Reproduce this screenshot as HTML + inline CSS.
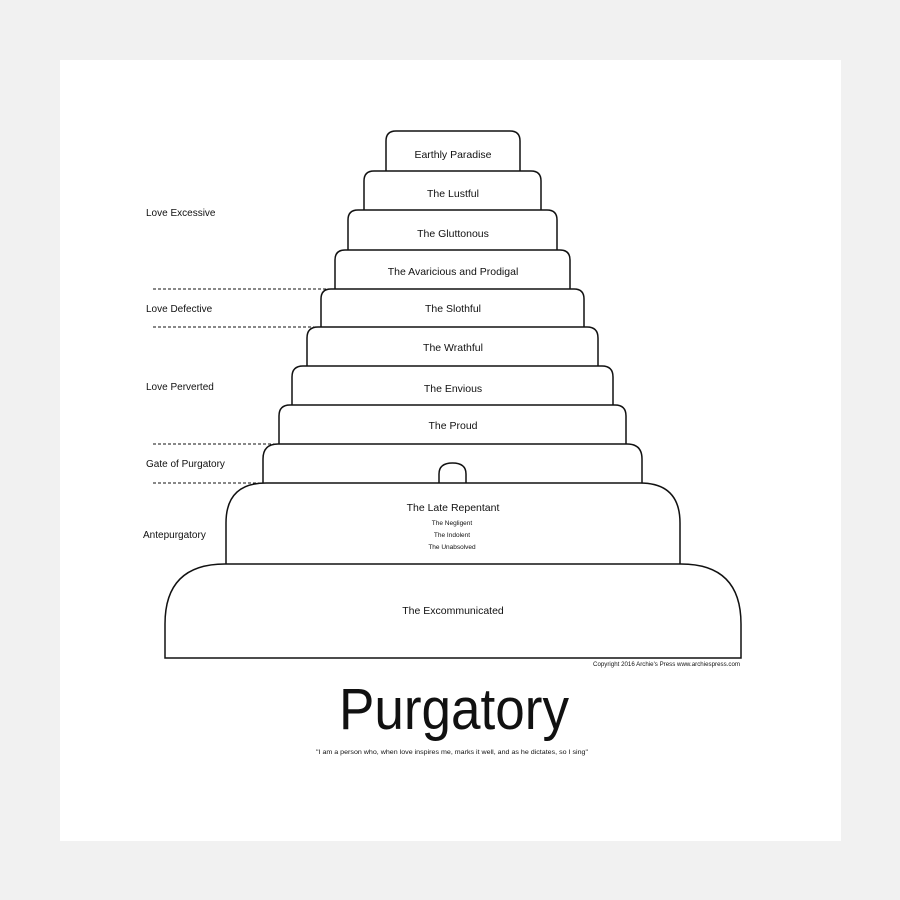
<!DOCTYPE html>
<html><head><style>
html,body{margin:0;padding:0;background:#f1f1f1;}
svg{display:block;}
text{font-family:"Liberation Sans",sans-serif;fill:#111;}
</style></head><body>
<svg width="900" height="900" viewBox="0 0 900 900" xmlns="http://www.w3.org/2000/svg">
<rect x="0" y="0" width="900" height="900" fill="#f1f1f1"/>
<rect x="60" y="60" width="781" height="781" fill="#fff"/>
<g fill="none" stroke="#111" stroke-width="1.5">
<path d="M386 171 V141 Q386 131 396 131 H510 Q520 131 520 141 V171"/>
<path d="M364 210 V181 Q364 171 374 171 H531 Q541 171 541 181 V210"/>
<path d="M348 250 V220 Q348 210 358 210 H547 Q557 210 557 220 V250"/>
<path d="M335 289 V260 Q335 250 345 250 H560 Q570 250 570 260 V289"/>
<path d="M321 327 V299 Q321 289 331 289 H574 Q584 289 584 299 V327"/>
<path d="M307 366 V338 Q307 327 318 327 H587 Q598 327 598 338 V366"/>
<path d="M292 405 V377 Q292 366 303 366 H602 Q613 366 613 377 V405"/>
<path d="M279 444 V416 Q279 405 290 405 H615 Q626 405 626 416 V444"/>
<path d="M263 483 V459 Q263 444 278 444 H627 Q642 444 642 459 V483"/>
<path d="M226 564 V523 Q226 483 266 483 H640 Q680 483 680 523 V564"/>
<path d="M165 658 V624 Q165 564 225 564 H681 Q741 564 741 624 V658 Z"/>
<path d="M439 483 V474 Q439 463 452.5 463 Q466 463 466 474 V483"/>
</g>
<g stroke="#111" stroke-width="1" stroke-dasharray="3,2">
<line x1="153" y1="289" x2="335" y2="289"/>
<line x1="153" y1="327" x2="321" y2="327"/>
<line x1="153" y1="444" x2="279" y2="444"/>
<line x1="153" y1="483" x2="263" y2="483"/>
</g>
<g font-size="10">
<text x="146" y="216">Love Excessive</text>
<text x="146" y="312">Love Defective</text>
<text x="146" y="390">Love Perverted</text>
<text x="146" y="467">Gate of Purgatory</text>
<text x="143" y="538">Antepurgatory</text>
</g>
<g font-size="10.5" text-anchor="middle">
<text x="453" y="158">Earthly Paradise</text>
<text x="453" y="197">The Lustful</text>
<text x="453" y="237">The Gluttonous</text>
<text x="453" y="275">The Avaricious and Prodigal</text>
<text x="453" y="312">The Slothful</text>
<text x="453" y="351">The Wrathful</text>
<text x="453" y="392">The Envious</text>
<text x="453" y="429">The Proud</text>
<text x="453" y="511">The Late Repentant</text>
<text x="453" y="614">The Excommunicated</text>
</g>
<g font-size="6.5" text-anchor="middle">
<text x="452" y="525">The Negligent</text>
<text x="452" y="537">The Indolent</text>
<text x="452" y="549">The Unabsolved</text>
</g>
<text x="740" y="666" font-size="6" text-anchor="end" textLength="147" lengthAdjust="spacingAndGlyphs">Copyright 2016 Archie's Press www.archiespress.com</text>
<text x="454" y="729" font-size="58" text-anchor="middle" textLength="230" lengthAdjust="spacingAndGlyphs">Purgatory</text>
<text x="452" y="754" font-size="6" text-anchor="middle" textLength="272" lengthAdjust="spacingAndGlyphs">"I am a person who, when love inspires me, marks it well, and as he dictates, so I sing"</text>
</svg>
</body></html>
